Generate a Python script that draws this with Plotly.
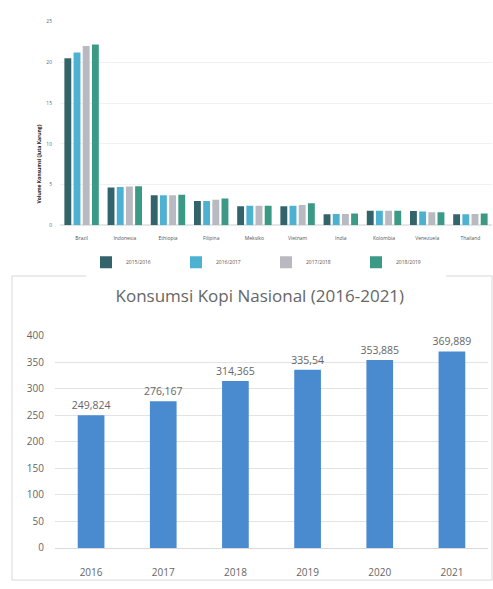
import plotly.graph_objects as go

W, H = 493, 589

# ---- top chart data ----
countries = ["Brazil", "Indonesia", "Ethiopia", "Filipina", "Meksiko",
             "Vietnam", "India", "Kolombia", "Venezuela", "Thailand"]
seasons = ["2015/2016", "2016/2017", "2017/2018", "2018/2019"]
s1 = [20.5, 4.65, 3.7, 3.0, 2.35, 2.35, 1.35, 1.8, 1.75, 1.35]
s2 = [21.2, 4.7, 3.7, 3.0, 2.4, 2.4, 1.4, 1.8, 1.7, 1.35]
s3 = [22.0, 4.75, 3.7, 3.15, 2.4, 2.5, 1.4, 1.8, 1.6, 1.4]
s4 = [22.2, 4.8, 3.75, 3.3, 2.4, 2.7, 1.45, 1.8, 1.6, 1.45]
top_ticks = [0, 5, 10, 15, 20, 25]
top_colors = ["#33646b", "#4db2d2", "#b9b9c1", "#3b9a85"]

# ---- bottom chart data ----
years = ["2016", "2017", "2018", "2019", "2020", "2021"]
consumption = [249.824, 276.167, 314.365, 335.54, 353.885, 369.889]
consumption_labels = ["249,824", "276,167", "314,365", "335,54", "353,885", "369,889"]
bottom_ticks = [0, 50, 100, 150, 200, 250, 300, 350, 400]

def px_y(p):
    return 1 - p / H

def px_x(p):
    return p / W

fig = go.Figure()

for name, vals, col in zip(seasons, [s1, s2, s3, s4], top_colors):
    fig.add_trace(go.Bar(x=countries, y=vals, name=name, marker_color=col,
                         marker_line_width=0, xaxis="x", yaxis="y"))

fig.add_trace(go.Bar(x=years, y=consumption, name="Konsumsi", showlegend=False,
                     marker_color="#4a8bd0", marker_line_width=0, width=0.37,
                     text=consumption_labels, textposition="outside",
                     constraintext="none",
                     textfont=dict(size=10.5, color="#666666", family="Open Sans"),
                     cliponaxis=False, xaxis="x2", yaxis="y2"))

fig.update_layout(
    width=W, height=H,
    margin=dict(l=0, r=0, t=0, b=0),
    paper_bgcolor="white", plot_bgcolor="white",
    barmode="group", bargap=0.15, bargroupgap=0.25,
    font=dict(family="Open Sans", color="#595959"),
    xaxis=dict(domain=[px_x(60), px_x(492)], anchor="y",
               tickfont=dict(size=5, color="#555"), showgrid=False,
               showline=False, ticks="outside", ticklen=8, tickcolor="white"),
    yaxis=dict(domain=[px_y(223), px_y(14)], anchor="x", range=[0, 25],
               tickvals=top_ticks, tickfont=dict(size=5, color="#666"),
               gridcolor="#f0f0f0", zeroline=True, zerolinecolor="#e6e6e6",
               showline=False, ticks="outside", ticklen=6, tickcolor="white"),
    xaxis2=dict(domain=[px_x(55), px_x(488)], anchor="y2",
                tickfont=dict(size=10, color="#666666"), showgrid=False,
                showline=True, linecolor="#d9d9d9",
                ticks="outside", ticklen=15, tickcolor="white"),
    yaxis2=dict(domain=[px_y(554), px_y(336)], anchor="x2", range=[0, 400],
                tickvals=bottom_ticks, tickfont=dict(size=10, color="#666666"),
                gridcolor="#e3e3e3", zeroline=False, showline=False,
                ticks="outside", ticklen=8, tickcolor="white"),
    legend=dict(orientation="h", x=px_x(86), xanchor="left", y=px_y(246),
                yanchor="top", font=dict(size=5, color="#555"),
                entrywidth=45, entrywidthmode="pixels", itemwidth=30,
                tracegroupgap=0),
    title=dict(text="Konsumsi Kopi Nasional (2016-2021)", x=0.527, xanchor="center",
               y=px_y(296), yanchor="middle",
               font=dict(size=17, color="#666666", family="Open Sans")),
    annotations=[dict(text="<b>Volume Konsumsi (Juta Karung)</b>", textangle=-90,
                      x=px_x(34), y=px_y(118), xref="paper", yref="paper",
                      showarrow=False, font=dict(size=5, color="#222"))],
    shapes=[dict(type="rect", xref="paper", yref="paper",
                 x0=px_x(12), x1=px_x(492), y0=px_y(587), y1=px_y(275),
                 line=dict(color="#d9d9d9", width=1), fillcolor="rgba(0,0,0,0)")],
)

fig.write_html("out.html")
